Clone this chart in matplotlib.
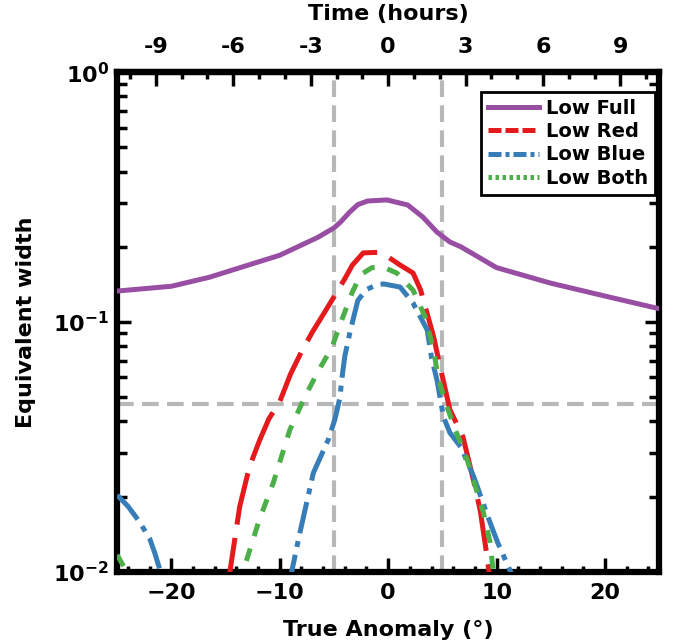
import matplotlib
matplotlib.use("Agg")
import matplotlib.pyplot as plt
from matplotlib.lines import Line2D
from matplotlib.ticker import MultipleLocator, LogLocator, FixedLocator, FuncFormatter

plt.rcParams['font.family'] = 'DejaVu Sans'
plt.rcParams['font.weight'] = 'bold'

# --- data ---
full_x = [-25, -20, -16.5, -10, -6.5, -5, -4.4, -3.6, -2.8, -1.9, -0.1, 1.8, 3.2, 4.5,
          5.7, 6.7, 10, 15, 20, 25]
full_y = [0.133, 0.139, 0.151, 0.185, 0.218, 0.238, 0.251, 0.274, 0.295, 0.305, 0.308,
          0.294, 0.263, 0.229, 0.209, 0.200, 0.165, 0.143, 0.127, 0.113]

red_x = [-15, -14.6, -13.7, -12.8, -11.85, -11, -10, -9, -8, -7, -6, -5, -4, -3.3, -2.3,
         -1, 0, 1.1, 2.3, 3, 4.2, 4.8, 5.7, 6.9, 8, 8.5, 9, 9.3, 9.6]
red_y = [0.0085, 0.0100, 0.0182, 0.0263, 0.0337, 0.041, 0.048, 0.062, 0.076, 0.091, 0.107,
         0.126, 0.149, 0.169, 0.189, 0.190, 0.182, 0.169, 0.157, 0.134, 0.087, 0.066,
         0.0445, 0.0347, 0.022, 0.0175, 0.0125, 0.0100, 0.0088]

blue_left_x = [-25, -24, -23, -22, -21.5, -21, -20.6]
blue_left_y = [0.0203, 0.0183, 0.0160, 0.0136, 0.0118, 0.0100, 0.0088]
blue_x = [-9.3, -8.9, -8.15, -6.9, -5.5, -4.9, -4.44, -4.3, -4.0, -3.5, -2.8, -2.0, -1.0,
          -0.4, 1.1, 2.3, 3.6, 4.0, 4.5, 5.1, 5.7, 6.7, 7.9, 9.2, 10.1, 11.3, 11.7]
blue_y = [0.0088, 0.0100, 0.0143, 0.0249, 0.034, 0.041, 0.050, 0.058, 0.073, 0.092,
          0.122, 0.135, 0.141, 0.142, 0.138, 0.119, 0.093, 0.072, 0.0586, 0.0417, 0.036,
          0.0316, 0.024, 0.0166, 0.0131, 0.0100, 0.0090]

green_left_x = [-25, -24, -23.6]
green_left_y = [0.0117, 0.0098, 0.0090]
green_x = [-13.8, -13.4, -11.9, -10.6, -9.07, -7.7, -6.5, -5.2, -4.2, -3.3, -2.5, -1.5,
           -0.5, 0.8, 2.3, 3.4, 4.2, 4.6, 5.3, 6.2, 7.3, 8.8, 9.4, 9.7, 10.0]
green_y = [0.0088, 0.0100, 0.0161, 0.0227, 0.037, 0.050, 0.063, 0.079, 0.104, 0.132,
           0.155, 0.165, 0.166, 0.157, 0.134, 0.105, 0.077, 0.060, 0.0474, 0.037, 0.028,
           0.0172, 0.0131, 0.0100, 0.0090]

vlines = [-5, 5]
hline = 0.047
labels = ['Low Full', 'Low Red', 'Low Blue', 'Low Both']
colors = ['#984ea3', '#e41a1c', '#377eb8', '#4daf4a']
hours_per_deg = 0.42
hour_ticks = [-9, -6, -3, 0, 3, 6, 9]

fig = plt.figure(figsize=(6.81, 6.44), dpi=100)
ax = fig.add_axes([0.172, 0.112, 0.796, 0.776])
ax.set_yscale('log')

lw = 3.6
red_dash = (10.5, 2.7)
blue_dash = (6.4, 1.6, 1.2, 1.6)
green_dash = (2.6, 2.6)
for v in vlines:
    ax.axvline(v, color='0.72', lw=3, dashes=(4, 2), zorder=1)
ax.axhline(hline, color='0.72', lw=3, dashes=(4, 2), zorder=1)

ax.plot(full_x, full_y, color=colors[0], lw=lw, zorder=3)
ax.plot(red_x, red_y, color=colors[1], lw=lw, dashes=red_dash, zorder=3)
ax.plot(blue_left_x, blue_left_y, color=colors[2], lw=lw, dashes=blue_dash, zorder=4)
ax.plot(blue_x, blue_y, color=colors[2], lw=lw, dashes=blue_dash, zorder=4)
ax.plot(green_left_x, green_left_y, color=colors[3], lw=lw, dashes=green_dash, zorder=5)
ax.plot(green_x, green_y, color=colors[3], lw=lw, dashes=green_dash, zorder=5)

ax.set_xlim(-25, 25)
ax.set_ylim(0.01, 1)

ax.xaxis.set_major_locator(MultipleLocator(10))
ax.xaxis.set_minor_locator(MultipleLocator(2))
ax.yaxis.set_major_locator(FixedLocator([0.01, 0.1, 1]))
ax.yaxis.set_major_formatter(FuncFormatter(
    lambda v, p: {0.01: r'$\mathbf{10^{-2}}$', 0.1: r'$\mathbf{10^{-1}}$', 1: r'$\mathbf{10^{0}}$'}.get(round(v, 3), '')))
ax.yaxis.set_minor_locator(LogLocator(base=10, subs=range(2, 10)))
ax.yaxis.set_minor_formatter(FuncFormatter(lambda v, p: ''))

ax.tick_params(which='both', direction='in', right=True, top=False, labelsize=16, width=2.5)
ax.tick_params(which='major', length=10)
ax.tick_params(axis='x', which='minor', length=4)
ax.tick_params(axis='y', which='minor', length=7)
ax.tick_params(axis='x', pad=8)
ax.tick_params(axis='y', pad=6)
for s in ax.spines.values():
    s.set_linewidth(4.5)

ax.set_xlabel('True Anomaly (°)', fontsize=16, fontweight='bold', labelpad=12)
ax.set_ylabel('Equivalent width', fontsize=16, fontweight='bold', labelpad=12)

sec = ax.secondary_xaxis('top', functions=(lambda d: d * hours_per_deg, lambda h: h / hours_per_deg))
sec.xaxis.set_major_locator(FixedLocator(hour_ticks))
sec.xaxis.set_minor_locator(MultipleLocator(1))
sec.xaxis.set_major_formatter(FuncFormatter(lambda v, p: f'{v:.0f}'))
sec.tick_params(which='both', direction='in', labelsize=16, width=2.5, pad=11)
sec.tick_params(which='major', length=10)
sec.tick_params(which='minor', length=5)
sec.spines['top'].set_linewidth(4.5)
sec.set_xlabel('Time (hours)', fontsize=16, fontweight='bold', labelpad=12)

handles = [
    Line2D([], [], color=colors[0], lw=lw),
    Line2D([], [], color=colors[1], lw=lw, dashes=(2.6, 0.8)),
    Line2D([], [], color=colors[2], lw=lw, dashes=(2.6, 0.8, 0.8, 0.8)),
    Line2D([], [], color=colors[3], lw=lw, dashes=(0.7, 0.7)),
]
leg = ax.legend(handles, labels, loc='upper right', bbox_to_anchor=(0.993, 0.96),
                fontsize=14, handlelength=2.6, fancybox=False, framealpha=1,
                edgecolor='black', borderpad=0.35, labelspacing=0.22,
                handletextpad=0.4, borderaxespad=0)
leg.get_frame().set_linewidth(2)
for t in leg.get_texts():
    t.set_fontweight('bold')

fig.savefig('out.png', dpi=100)
